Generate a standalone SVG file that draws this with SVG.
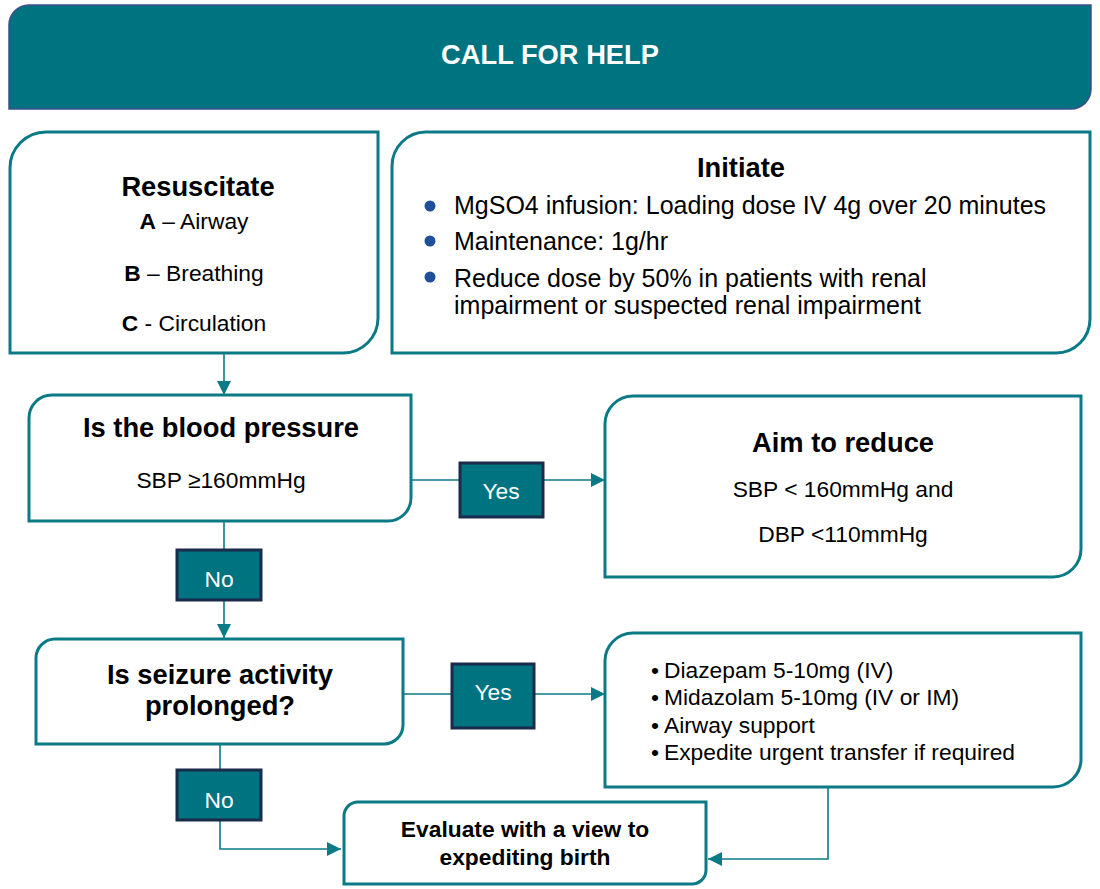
<svg xmlns="http://www.w3.org/2000/svg" width="1100" height="889" viewBox="0 0 1100 889">
<style>
text{font-family:"Liberation Sans",Arial,sans-serif;fill:#000}
.box{fill:#fff;stroke:#0a7a86;stroke-width:3}
.hdr{fill:#007381;stroke:#3d4f8e;stroke-width:1.5}
.lbl{fill:#007381;stroke:#1b2b4b;stroke-width:3}
.lt{fill:#fff;font-size:22.8px;text-anchor:middle}
.ttl{font-size:27.3px;font-weight:bold;text-anchor:middle}
.body{font-size:22.8px}
.mid{text-anchor:middle}
.ini{font-size:25px}
.b{font-weight:bold}
.conn{fill:none;stroke:#0a7a86;stroke-width:1.6}
.dot{fill:#1f4f99}
</style>
<defs>
<marker id="ah" viewBox="0 0 10 10" refX="10" refY="5" markerWidth="14" markerHeight="14" markerUnits="userSpaceOnUse" orient="auto">
<path d="M0,0 L10,5 L0,10 Z" fill="#0a7a86"/>
</marker>
</defs>

<g id="header">
<path class="hdr" d="M29,5 H1091 V89 A20,20 0 0 1 1071,109 H9 V25 A20,20 0 0 1 29,5 Z"/>
<text x="550" y="64" class="ttl" style="fill:#fff">CALL FOR HELP</text>
</g>

<g id="connectors">
<path class="conn" d="M224,353 V395" marker-end="url(#ah)"/>
<path class="conn" d="M411,480 H460"/>
<path class="conn" d="M543,480 H605" marker-end="url(#ah)"/>
<path class="conn" d="M224,521 V550"/>
<path class="conn" d="M224,600 V638" marker-end="url(#ah)"/>
<path class="conn" d="M403,694 H452"/>
<path class="conn" d="M534,694 H605" marker-end="url(#ah)"/>
<path class="conn" d="M220,744 V770"/>
<path class="conn" d="M220,820 V849 H341" marker-end="url(#ah)"/>
<path class="conn" d="M828,787 V859 H708" marker-end="url(#ah)"/>
</g>

<g id="resuscitate">
<path class="box" d="M46,132 H378 V318 A35,35 0 0 1 343,353 H10 V168 A36,36 0 0 1 46,132 Z"/>
<text x="198" y="196" class="ttl">Resuscitate</text>
<text x="194" y="229" class="body mid"><tspan class="b">A</tspan> – Airway</text>
<text x="194" y="281" class="body mid"><tspan class="b">B</tspan> – Breathing</text>
<text x="194" y="331" class="body mid"><tspan class="b">C</tspan> - Circulation</text>
</g>

<g id="initiate">
<path class="box" d="M426,132 H1090 V319 A34,34 0 0 1 1056,353 H392 V166 A34,34 0 0 1 426,132 Z"/>
<text x="741" y="177" class="ttl">Initiate</text>
<circle class="dot" cx="430" cy="206" r="5.5"/>
<circle class="dot" cx="430" cy="241" r="5.5"/>
<circle class="dot" cx="430" cy="277" r="5.5"/>
<text x="454" y="214" class="ini">MgSO4 infusion: Loading dose IV 4g over 20 minutes</text>
<text x="454" y="250" class="ini">Maintenance: 1g/hr</text>
<text x="454" y="287" class="ini">Reduce dose by 50% in patients with renal</text>
<text x="454" y="314" class="ini">impairment or suspected renal impairment</text>
</g>

<g id="bp-question">
<path class="box" d="M52,395 H411 V498 A23,23 0 0 1 388,521 H29 V418 A23,23 0 0 1 52,395 Z"/>
<text x="221" y="437" class="ttl">Is the blood pressure</text>
<text x="221" y="488" class="body mid">SBP ≥160mmHg</text>
</g>

<g id="yes1">
<rect class="lbl" x="460" y="463" width="83" height="54"/>
<text x="501" y="499" class="lt">Yes</text>
</g>

<g id="aim-reduce">
<path class="box" d="M633,396 H1081 V549 A28,28 0 0 1 1053,577 H605 V424 A28,28 0 0 1 633,396 Z"/>
<text x="843" y="452" class="ttl">Aim to reduce</text>
<text x="843" y="497" class="body mid">SBP &lt; 160mmHg and</text>
<text x="843" y="542" class="body mid">DBP &lt;110mmHg</text>
</g>

<g id="no1">
<rect class="lbl" x="177" y="550" width="84" height="50"/>
<text x="219" y="587" class="lt">No</text>
</g>

<g id="seizure-question">
<path class="box" d="M55,639 H403 V725 A19,19 0 0 1 384,744 H36 V658 A19,19 0 0 1 55,639 Z"/>
<text x="220" y="684" class="ttl">Is seizure activity</text>
<text x="220" y="715" class="ttl">prolonged?</text>
</g>

<g id="yes2">
<rect class="lbl" x="452" y="664" width="82" height="64"/>
<text x="493" y="700" class="lt">Yes</text>
</g>

<g id="drugs">
<path class="box" d="M633,633 H1081 V759 A28,28 0 0 1 1053,787 H605 V661 A28,28 0 0 1 633,633 Z"/>
<text x="651" y="678" class="body">•<tspan x="664">Diazepam 5-10mg (IV)</tspan></text>
<text x="651" y="705" class="body">•<tspan x="664">Midazolam 5-10mg (IV or IM)</tspan></text>
<text x="651" y="733" class="body">•<tspan x="664">Airway support</tspan></text>
<text x="651" y="760" class="body">•<tspan x="664">Expedite urgent transfer if required</tspan></text>
</g>

<g id="no2">
<rect class="lbl" x="177" y="770" width="84" height="50"/>
<text x="219" y="808" class="lt">No</text>
</g>

<g id="evaluate">
<path class="box" d="M358,802 H706 V870 A14,14 0 0 1 692,884 H344 V816 A14,14 0 0 1 358,802 Z"/>
<text x="525" y="837" class="body mid b">Evaluate with a view to</text>
<text x="525" y="865" class="body mid b">expediting birth</text>
</g>
</svg>
